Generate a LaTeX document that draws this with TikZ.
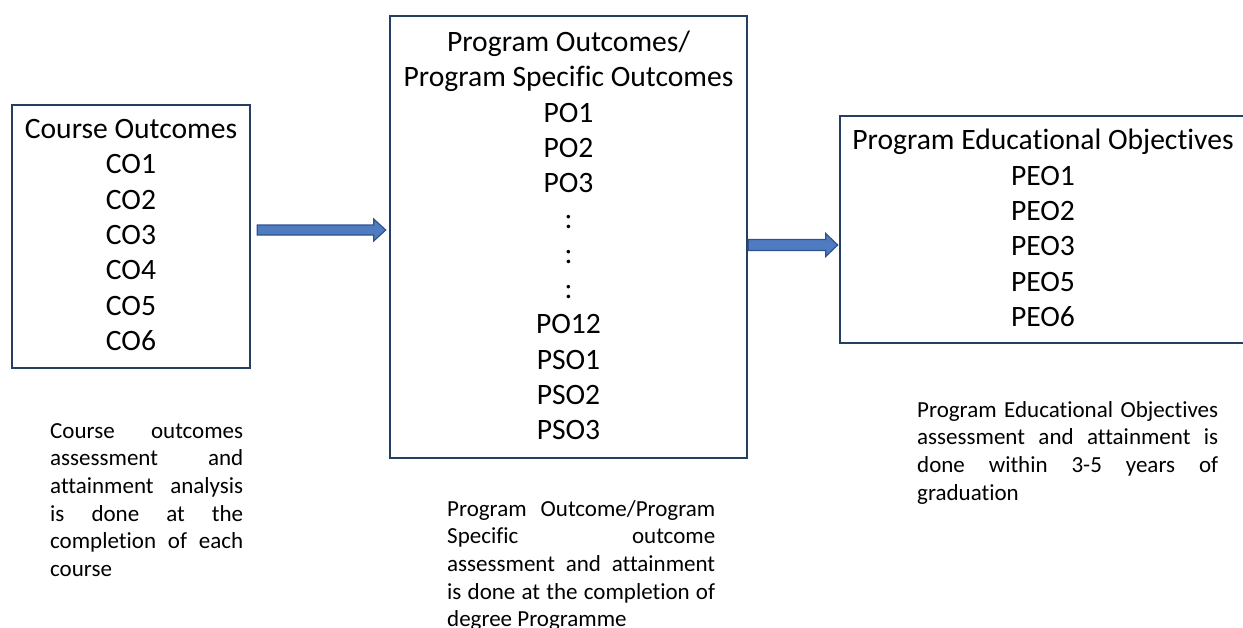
\documentclass[tikz,border=0pt]{standalone}
\usepackage{fontspec}
\setmainfont{Carlito}[Ligatures=CommonOff]
\usetikzlibrary{calc}
\definecolor{boxedge}{HTML}{243F60}
\definecolor{arrowfill}{HTML}{4F7CC0}
\definecolor{arrowedge}{HTML}{2F528F}
\tikzset{
  box/.style={draw=boxedge, line width=2.6pt, inner sep=0pt, align=center,
    font=\fontsize{29.6}{35.3}\selectfont},
  caption/.style={inner sep=0pt, anchor=base west,
    font=\fontsize{23}{27.7}\selectfont},
  blockarrow/.style={fill=arrowfill, draw=arrowedge, line width=1.2pt, line join=miter}
}
\newcommand{\captext}[2]{\parbox[t]{#1}{\parindent=0pt\hyphenpenalty=10000\tolerance=10000\hbadness=10000 #2}}
\begin{document}
\begin{tikzpicture}[x=1pt,y=-1pt]
\useasboundingbox (0,0) rectangle (1243,627);

\node[box, minimum width=238pt, minimum height=263pt] (co) at (131,236.5)
  {Course Outcomes\\CO1\\CO2\\CO3\\CO4\\CO5\\CO6\rule{0pt}{0pt}\vspace*{3pt}};
\node[box, minimum width=357pt, minimum height=442pt] (po) at (568.5,237)
  {Program Outcomes/\\Program Specific Outcomes\\PO1\\PO2\\PO3\\:\\:\\:\\PO12\\PSO1\\PSO2\\PSO3\vspace*{3pt}};
\node[box, minimum width=406pt, minimum height=227pt] (peo) at (1043,229.5)
  {Program Educational Objectives\\PEO1\\PEO2\\PEO3\\PEO5\\PEO6\vspace*{3pt}};

\node[caption] (cap1) at (50,438) {\captext{193pt}{Course outcomes\linebreak assessment and\linebreak attainment analysis\linebreak is done at the\linebreak completion of each\linebreak course}};
\node[caption] (cap2) at (447,516) {\captext{268pt}{Program Outcome/Program\linebreak Specific outcome\linebreak assessment and attainment\linebreak is done at the completion of\linebreak degree Programme}};
\node[caption] (cap3) at (917,417) {\captext{301pt}{Program Educational Objectives\linebreak assessment and attainment is\linebreak done within 3-5 years of\linebreak graduation}};

\filldraw[blockarrow] let \p1=([xshift=6pt]co.east), \p2=([xshift=-3pt]po.west) in
  (\x1,230-5) -- (\x2-12,230-5) -- (\x2-12,230-11) -- (\x2,230) -- (\x2-12,230+11) -- (\x2-12,230+5) -- (\x1,230+5) -- cycle;
\filldraw[blockarrow] let \p1=([xshift=0pt]po.east), \p2=([xshift=-1pt]peo.west) in
  (\x1,245-5.5) -- (\x2-12,245-5.5) -- (\x2-12,245-11.5) -- (\x2,245) -- (\x2-12,245+11.5) -- (\x2-12,245+5.5) -- (\x1,245+5.5) -- cycle;
\end{tikzpicture}
\end{document}
